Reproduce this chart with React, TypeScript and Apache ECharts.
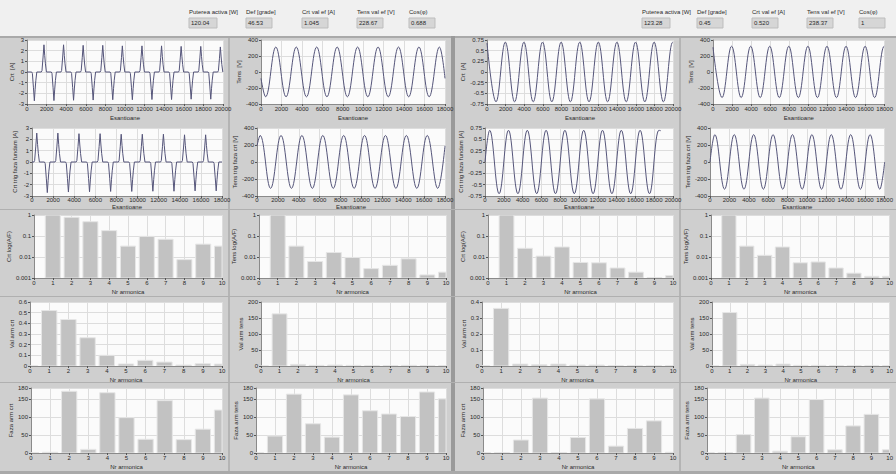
import React, { useEffect, useRef } from "react";
import * as echarts from "echarts";

const FONT = "'Liberation Sans', Arial, sans-serif";
const FS = 6;
const LINE = "#55557a";
const BAR_FILL = "#c2c2c2";
const BAR_EDGE = "#e6e6e6";
const GRID_LINE = "#dddddd";
const PLOT_BG = "#fbfbfb";
const PANEL_BG = "#cfcfcf";
const TEXT = "#2a2a2a";

// ---------------- Indicators ----------------
const indicatorLabels = ["Puterea activa [W]", "Def [grade]", "Crt val ef [A]", "Tens val ef [V]", "Cos(φ)"];
const indicatorValuesLeft = ["120.04", "46.53", "1.045", "228.67", "0.688"];
const indicatorValuesRight = ["123.28", "0.45", "0.520", "238.37", "1"];

// ---------------- Harmonic spectra (orders 0..10) ----------------
const harmonicOrders = [0, 1, 2, 3, 4, 5, 6, 7, 8, 9, 10];
const crtLogLeft = [null, 1.0, 0.78, 0.48, 0.18, 0.033, 0.096, 0.07, 0.0075, 0.041, 0.033];
const tensLogLeft = [null, 1.0, 0.033, 0.0061, 0.0164, 0.0095, 0.0028, 0.004, 0.0082, 0.0014, 0.0019];
const crtAmpLeft = [0.002, 0.52, 0.436, 0.265, 0.1, 0.019, 0.053, 0.037, 0.009, 0.021, 0.018];
const tensAmpLeft = [0.5, 163, 5, 2, 3, 2, 1, 1, 2, 1, 1];
const crtPhaseLeft = [1, 2, 171, 10, 167, 98, 38, 145, 37, 66, 119];
const tensPhaseLeft = [1, 47, 163, 81, 44, 161, 117, 108, 101, 169, 150];

const crtLogRight = [null, 1.0, 0.026, 0.011, 0.03, 0.0055, 0.0053, 0.003, 0.0019, 0.00104, 0.0013];
const tensLogRight = [null, 1.0, 0.033, 0.012, 0.03, 0.0053, 0.0058, 0.003, 0.0017, 0.0012, 0.0012];
const crtAmpRight = [0.002, 0.36, 0.012, 0.008, 0.012, 0.006, 0.006, 0.002, 0.002, 0.002, 0.002];
const tensAmpRight = [0.5, 167, 5, 3, 6, 2, 2, 1, 1, 1, 1];
const crtPhaseRight = [1, 1, 36, 152, 1, 43, 150, 19, 68, 89, 2];
const tensPhaseRight = [1, 1, 51, 152, 5, 45, 148, 9, 75, 107, 9];

// ---------------- Waveforms ----------------
// Left measurement, current pulses (Crt [A]), 0..20000 samples
const crtLeftNegAt = [750, 2750, 4750, 6750, 8750, 10750, 12750, 14750, 16750, 18750];
const crtLeftNegVal = [-2.7, -2.68, -2.65, -2.63, -2.6, -2.6, -2.58, -2.58, -2.55, -2.55];
const crtLeftPosAt = [1730, 3730, 5730, 7730, 9730, 11730, 13730, 15730, 17730, 19730];
const crtLeftPosVal = [2.55, 2.55, 2.5, 2.5, 2.45, 2.45, 2.45, 2.4, 2.4, 2.35];
// Left, current shifted to fundamental phase, 0..18000 samples
const crtTrigLeftPosAt = [450, 2450, 4450, 6450, 8450, 10450, 12450, 14450, 16450];
const crtTrigLeftPosVal = [2.55, 2.55, 2.5, 2.5, 2.45, 2.45, 2.45, 2.4, 2.4];
const crtTrigLeftNegAt = [1450, 3450, 5450, 7450, 9450, 11450, 13450, 15450, 17450];
const crtTrigLeftNegVal = [-2.7, -2.65, -2.63, -2.6, -2.6, -2.58, -2.58, -2.55, -2.55];
// pulse outline (sample offset, fraction of peak)
const pulseOffsets = [-270, -200, -90, 0, 80, 150, 250];
const pulseFractions = [0, 0.05, 0.55, 1, 0.6, 0.3, 0];

// Left, voltage (Tens [V]) extrema
const tensLeftX = [0, 450, 1450, 2450, 3450, 4450, 5450, 6450, 7450, 8450, 9450, 10450, 11450, 12450, 13450, 14450, 15450, 16450, 17450, 18000];
const tensLeftY = [-80, -310, 312, -310, 312, -310, 312, -310, 312, -310, 312, -310, 312, -310, 312, -310, 312, -310, 312, -80];
// Left, voltage shifted to current phase
const tensTrigLeftX = [0, 300, 1300, 2300, 3300, 4300, 5300, 6300, 7300, 8300, 9300, 10300, 11300, 12300, 13300, 14300, 15300, 16300, 17300, 18000];
const tensTrigLeftY = [190, 312, -310, 312, -310, 312, -310, 312, -310, 312, -310, 312, -310, 312, -310, 312, -310, 312, -310, 190];

// Right measurement, current (sinusoidal)
const crtRightX = [0, 970, 1970, 2970, 3970, 4970, 5970, 6970, 7970, 8970, 9970, 10970, 11970, 12970, 13970, 14970, 15970, 16970, 17970, 18970, 19970, 20000];
const crtRightY = [0.68, -0.7, 0.7, -0.7, 0.7, -0.7, 0.7, -0.7, 0.7, -0.7, 0.7, -0.7, 0.7, -0.7, 0.7, -0.7, 0.7, -0.7, 0.7, -0.7, 0.7, 0.699];
const crtTrigRightX = [0, 500, 1500, 2500, 3500, 4500, 5500, 6500, 7500, 8500, 9500, 10500, 11500, 12500, 13500, 14500, 15500, 16500, 17500, 18500, 18700];
const crtTrigRightY = [0, 0.7, -0.7, 0.7, -0.7, 0.7, -0.7, 0.7, -0.7, 0.7, -0.7, 0.7, -0.7, 0.7, -0.7, 0.7, -0.7, 0.7, -0.7, 0.7, 0.69];
// Right, voltage
const tensRightX = [0, 950, 1950, 2950, 3950, 4950, 5950, 6950, 7950, 8950, 9950, 10950, 11950, 12950, 13950, 14950, 15950, 16950, 17950, 18000];
const tensRightY = [310, -320, 322, -320, 322, -320, 322, -320, 322, -320, 322, -320, 322, -320, 322, -320, 322, -320, 322, 321];
const tensTrigRightX = [0, 500, 1500, 2500, 3500, 4500, 5500, 6500, 7500, 8500, 9500, 10500, 11500, 12500, 13500, 14500, 15500, 16500, 17500, 18000];
const tensTrigRightY = [0, 322, -320, 322, -320, 322, -320, 322, -320, 322, -320, 322, -320, 322, -320, 322, -320, 322, -320, 0];

// ---------------- helpers ----------------
function zip(xs: number[], ys: number[]) {
  return xs.map((x, i) => [x, ys[i]]);
}

function pulseTrain(aAt: number[], aVal: number[], bAt: number[], bVal: number[], xMax: number) {
  const events = [
    ...aAt.map((c, i) => [c, aVal[i]]),
    ...bAt.map((c, i) => [c, bVal[i]]),
  ].sort((p, q) => p[0] - q[0]);
  const pts: number[][] = [[0, 0]];
  events.forEach(([c, p]) => {
    pulseOffsets.forEach((o, k) => {
      const x = c + o;
      if (x > 0 && x < xMax) pts.push([x, p * pulseFractions[k]]);
    });
  });
  pts.push([xMax, 0]);
  return pts;
}

const fmtNum = (v: number) => String(Number(v.toPrecision(4)));

type Panel = {
  left: number;
  right: number;
  top: number;
  bottom: number;
  xMax: number;
  xInt: number;
  xName: string;
  xNameGap: number;
  xLabelMargin: number;
  yType: "value" | "log";
  yMin: number;
  yMax: number;
  yInt?: number;
  yName: string;
  yNameGap: number;
  wave?: number[][];
  smooth?: number | boolean;
  bars?: (number | null)[];
};

function buildOption(panels: Panel[]) {
  const grid: any[] = [];
  const xAxis: any[] = [];
  const yAxis: any[] = [];
  const series: any[] = [];
  const textStyle = { fontSize: FS, color: TEXT, fontFamily: FONT };
  panels.forEach((p, i) => {
    grid.push({
      left: p.left,
      top: p.top,
      width: p.right - p.left,
      height: p.bottom - p.top,
      show: true,
      backgroundColor: PLOT_BG,
      borderWidth: 0,
      containLabel: false,
    });
    xAxis.push({
      type: "value",
      gridIndex: i,
      min: 0,
      max: p.xMax,
      interval: p.xInt,
      name: p.xName,
      nameLocation: "middle",
      nameGap: p.xNameGap,
      nameTextStyle: textStyle,
      axisLine: { show: true, onZero: false, lineStyle: { color: "#8a8a8a", width: 1 } },
      axisTick: { show: true, length: 2, lineStyle: { color: "#555" } },
      axisLabel: { ...textStyle, margin: p.xLabelMargin, showMinLabel: true, showMaxLabel: true, hideOverlap: false, formatter: fmtNum },
      splitLine: { show: true, lineStyle: { color: GRID_LINE, width: 1 } },
    });
    const y: any = {
      type: p.yType,
      gridIndex: i,
      min: p.yMin,
      max: p.yMax,
      name: p.yName,
      nameLocation: "middle",
      nameRotate: 90,
      nameGap: p.yNameGap,
      nameTextStyle: textStyle,
      axisLine: { show: true, onZero: false, lineStyle: { color: "#8a8a8a", width: 1 } },
      axisTick: { show: true, length: 2, lineStyle: { color: "#555" } },
      axisLabel: { ...textStyle, margin: 3, formatter: fmtNum },
      splitLine: { show: true, lineStyle: { color: GRID_LINE, width: 1 } },
    };
    if (p.yType === "value") y.interval = p.yInt;
    else y.logBase = 10;
    yAxis.push(y);

    if (p.wave) {
      series.push({
        type: "line",
        xAxisIndex: i,
        yAxisIndex: i,
        data: p.wave,
        smooth: p.smooth ?? false,
        showSymbol: false,
        symbol: "none",
        clip: true,
        lineStyle: { color: LINE, width: 1 },
        silent: true,
      });
    }
    if (p.bars) {
      const base = p.yType === "log" ? p.yMin : 0;
      const data = harmonicOrders
        .map((h, k) => [h, p.bars![k]])
        .filter((d) => d[1] !== null && (d[1] as number) > 0);
      series.push({
        type: "custom",
        xAxisIndex: i,
        yAxisIndex: i,
        clip: true,
        silent: true,
        encode: { x: 0, y: 1 },
        data,
        renderItem: (params: any, api: any) => {
          const h = api.value(0);
          const v = Math.max(api.value(1), base);
          const cs = params.coordSys;
          const p0 = api.coord([h - 0.4, base]);
          const p1 = api.coord([h + 0.4, v]);
          const x0 = Math.max(p0[0], cs.x);
          const x1 = Math.min(p1[0], cs.x + cs.width);
          if (x1 <= x0) return null;
          return {
            type: "rect",
            shape: { x: x0, y: p1[1], width: x1 - x0, height: Math.max(p0[1] - p1[1], 0.8) },
            style: { fill: BAR_FILL, stroke: BAR_EDGE, lineWidth: 1 },
          };
        },
      });
    }
  });
  return { grid, xAxis, yAxis, series };
}

// ---------------- layout ----------------
const ESA = "Esantioane";
const NRA = "Nr armonica";

function allPanels(): Panel[] {
  const w = (o: Partial<Panel>): Panel => ({
    xNameGap: 11,
    xLabelMargin: 2,
    yType: "value",
    yMin: 0,
    yMax: 1,
    xInt: 2000,
    xMax: 18000,
    xName: ESA,
    yName: "",
    yNameGap: 12,
    left: 0,
    right: 0,
    top: 0,
    bottom: 0,
    ...o,
  } as Panel);
  const row1 = { top: 40, bottom: 104 };
  const row2 = { top: 128, bottom: 196, xNameGap: 8, xLabelMargin: 1 };
  const row3 = { top: 215, bottom: 278, xMax: 10, xInt: 1, xName: NRA };
  const row4 = { top: 302, bottom: 366, xMax: 10, xInt: 1, xName: NRA };
  const row5 = { top: 388, bottom: 453, xMax: 10, xInt: 1, xName: NRA, yMax: 180, yInt: 50 };
  return [
    // column 1 (left measurement, current)
    w({ ...row1, left: 27, right: 223, xMax: 20000, yMin: -3, yMax: 3, yInt: 1, yName: "Crt  [A]", yNameGap: 9,
      wave: pulseTrain(crtLeftNegAt, crtLeftNegVal, crtLeftPosAt, crtLeftPosVal, 20000) }),
    w({ ...row2, left: 32, right: 222, xMax: 18000, yMin: -3, yMax: 3, yInt: 1, yName: "Crt trig faza fundam [A]", yNameGap: 14,
      wave: pulseTrain(crtTrigLeftPosAt, crtTrigLeftPosVal, crtTrigLeftNegAt, crtTrigLeftNegVal, 18000) }),
    w({ ...row3, left: 34, right: 222, yType: "log", yMin: 0.001, yMax: 1, yName: "Crt log(A/F)", yNameGap: 17, bars: crtLogLeft }),
    w({ ...row4, left: 30, right: 222, yMin: 0, yMax: 0.6, yInt: 0.1, yName: "Val arm crt", yNameGap: 13, bars: crtAmpLeft }),
    w({ ...row5, left: 31, right: 222, yName: "Faza arm crt", yNameGap: 13, bars: crtPhaseLeft }),
    // column 2 (left measurement, voltage)
    w({ ...row1, left: 261, right: 445, yMin: -400, yMax: 400, yInt: 200, yName: "Tens  [V]", yNameGap: 14,
      wave: zip(tensLeftX, tensLeftY), smooth: 0.4 }),
    w({ ...row2, left: 257, right: 445, yMin: -400, yMax: 400, yInt: 200, yName: "Tens trig faza crt [V]", yNameGap: 14,
      wave: zip(tensTrigLeftX, tensTrigLeftY), smooth: 0.4 }),
    w({ ...row3, left: 259, right: 446, yType: "log", yMin: 0.001, yMax: 1, yName: "Tens log(A/F)", yNameGap: 17, bars: tensLogLeft }),
    w({ ...row4, left: 261, right: 446, yMin: 0, yMax: 200, yInt: 50, yName: "Val arm tens", yNameGap: 15, bars: tensAmpLeft }),
    w({ ...row5, left: 256, right: 446, yName: "Faza arm tens", yNameGap: 14, bars: tensPhaseLeft }),
    // column 3 (right measurement, current)
    w({ ...row1, left: 487, right: 673, xMax: 20000, yMin: -0.75, yMax: 0.75, yInt: 0.25, yName: "Crt  [A]", yNameGap: 16,
      wave: zip(crtRightX, crtRightY), smooth: 0.4 }),
    w({ ...row2, left: 485, right: 673, xMax: 20000, yMin: -0.75, yMax: 0.75, yInt: 0.25, yName: "Crt trig faza fundam [A]", yNameGap: 15,
      wave: zip(crtTrigRightX, crtTrigRightY), smooth: 0.4 }),
    w({ ...row3, left: 488, right: 673, yType: "log", yMin: 0.001, yMax: 1, yName: "Crt log(A/F)", yNameGap: 19, bars: crtLogRight }),
    w({ ...row4, left: 482, right: 673, yMin: 0, yMax: 0.4, yInt: 0.1, yName: "Val arm crt", yNameGap: 10, bars: crtAmpRight }),
    w({ ...row5, left: 483, right: 673, yName: "Faza arm crt", yNameGap: 10, bars: crtPhaseRight }),
    // column 4 (right measurement, voltage) - cut by the window edge
    w({ ...row1, left: 713, right: 904, yMin: -400, yMax: 400, yInt: 200, yName: "Tens  [V]", yNameGap: 14,
      wave: zip(tensRightX, tensRightY), smooth: 0.4 }),
    w({ ...row2, left: 710, right: 904, yMin: -400, yMax: 400, yInt: 200, yName: "Tens trig faza crt [V]", yNameGap: 17,
      wave: zip(tensTrigRightX, tensTrigRightY), smooth: 0.4 }),
    w({ ...row3, left: 711, right: 897, yType: "log", yMin: 0.001, yMax: 1, yName: "Tens log(A/F)", yNameGap: 17, bars: tensLogRight }),
    w({ ...row4, left: 712, right: 897, yMin: 0, yMax: 200, yInt: 50, yName: "Val arm tens", yNameGap: 13, bars: tensAmpRight }),
    w({ ...row5, left: 707, right: 897, yName: "Faza arm tens", yNameGap: 11, bars: tensPhaseRight }),
  ];
}

function indicatorGraphics(xs: number[], values: string[]) {
  const els: any[] = [];
  xs.forEach((x, i) => {
    els.push({
      type: "text",
      x,
      y: 9,
      z: 5,
      style: { text: indicatorLabels[i], fontSize: FS, fontFamily: FONT, fill: TEXT },
    });
    els.push({
      type: "rect",
      shape: { x, y: 18, width: i === 0 ? 28 : 26, height: 10 },
      z: 4,
      style: { fill: "#d6d6d6", stroke: "#bdbdbd", lineWidth: 1 },
    });
    els.push({
      type: "text",
      x: x + 2,
      y: 20,
      z: 5,
      style: { text: values[i], fontSize: FS, fontFamily: FONT, fill: TEXT },
    });
  });
  return els;
}

export default function App() {
  const ref = useRef<HTMLDivElement>(null);
  useEffect(() => {
    if (!ref.current) return;
    const chart = echarts.init(ref.current, undefined, { renderer: "svg" });
    const built = buildOption(allPanels());
    const bg: any[] = [
      { type: "rect", shape: { x: 0, y: 0, width: 896, height: 474 }, z: -20, style: { fill: PANEL_BG } },
      { type: "rect", shape: { x: 0, y: 0, width: 896, height: 36 }, z: -19, style: { fill: "#f0f0f0" } },
      { type: "rect", shape: { x: 0, y: 36, width: 896, height: 2 }, z: -19, style: { fill: "#a9a9a9" } },
      { type: "rect", shape: { x: 451, y: 36, width: 4, height: 438 }, z: -19, style: { fill: "#9a9a9a" } },
      { type: "rect", shape: { x: 228, y: 38, width: 2, height: 436 }, z: -19, style: { fill: "#b4b4b4" } },
      { type: "rect", shape: { x: 679, y: 38, width: 2, height: 436 }, z: -19, style: { fill: "#b4b4b4" } },
      { type: "rect", shape: { x: 0, y: 209, width: 896, height: 1 }, z: -19, style: { fill: "#b0b0b0" } },
      { type: "rect", shape: { x: 0, y: 296, width: 896, height: 1 }, z: -19, style: { fill: "#b0b0b0" } },
      { type: "rect", shape: { x: 0, y: 382, width: 896, height: 1 }, z: -19, style: { fill: "#b0b0b0" } },
      { type: "rect", shape: { x: 0, y: 471, width: 896, height: 3 }, z: -19, style: { fill: "#a9a9a9" } },
    ];
    chart.setOption({
      animation: false,
      backgroundColor: PANEL_BG,
      textStyle: { fontFamily: FONT },
      ...built,
      graphic: [
        ...bg,
        ...indicatorGraphics([189, 246, 302, 357, 409], indicatorValuesLeft),
        ...indicatorGraphics([642, 697, 752, 807, 859], indicatorValuesRight),
      ],
    });
    return () => chart.dispose();
  }, []);
  return (
    <div
      ref={ref}
      style={{ position: "absolute", left: 0, top: 0, width: 896, height: 474 }}
    />
  );
}
